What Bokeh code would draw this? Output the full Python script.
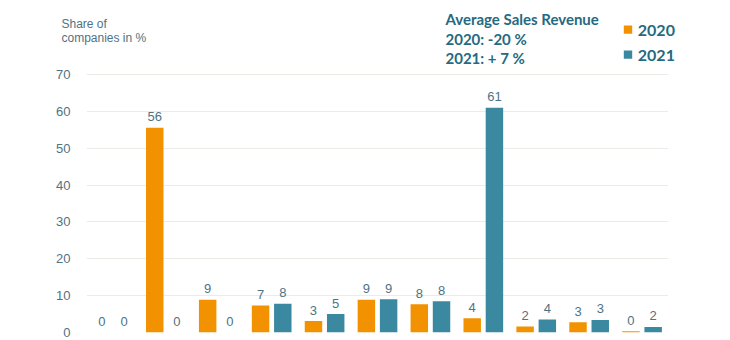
from bokeh.plotting import figure
from bokeh.layouts import column
from bokeh.models import FactorRange, Range1d, Label, FixedTicker, ColumnDataSource
from bokeh.transform import dodge
from bokeh.core.properties import value
from bokeh.embed import file_html
from bokeh.resources import INLINE

# ---- data ----
categories = ["G1", "G2", "G3", "G4", "G5", "G6", "G7", "G8", "G9", "G10", "G11"]
share_2020 = [0.0, 55.6, 8.9, 7.3, 3.1, 8.9, 7.7, 3.9, 1.6, 2.8, 0.35]
share_2021 = [0.0, 0.0, 0.0, 7.8, 5.0, 9.0, 8.5, 61.0, 3.5, 3.4, 1.5]
labels_2020 = ["0", "56", "9", "7", "3", "9", "8", "4", "2", "3", "0"]
labels_2021 = ["0", "0", "0", "8", "5", "9", "8", "61", "4", "3", "2"]
y_ticks = [0, 10, 20, 30, 40, 50, 60, 70]
series_names = ["2020", "2021"]
note_lines = ["Average Sales Revenue", "2020: -20 %", "2021: + 7 %"]
y_title_lines = ["Share of", "companies in %"]

# ---- styles ----
ORANGE = "#F39200"
TEAL = "#3B89A0"
TEXT = "#4F7383"
DARK = "#256A80"
GRID = "#ECECE6"
W = 730
HEAD_H = 67

# ---------------- header (titles, note, legend) ----------------
head = figure(width=W, height=HEAD_H, x_range=Range1d(0, W), y_range=Range1d(HEAD_H, 0),
              output_backend="svg", toolbar_location=None, frame_align=False,
              min_border_left=0, min_border_right=0, min_border_top=0, min_border_bottom=0)
head.axis.visible = False
head.grid.visible = False
head.outline_line_color = None
head.background_fill_color = "white"
head.border_fill_color = "white"


def label(px, py, txt, font, size, color, bold=False):
    head.add_layout(Label(x=px, y=py, text=txt, text_font=font, text_font_size=f"{size}px",
                          text_color=color, text_font_style="bold" if bold else "normal",
                          text_align="left", text_baseline="alphabetic"))


for txt, py in zip(y_title_lines, (23.3, 37.3)):
    label(61, py, txt, "Liberation Sans", 12, TEXT)

for txt, py in zip(note_lines, (18.7, 38.5, 57.6)):
    label(445, py, txt, "Lato", 15, DARK, bold=True)

for name, color, (top, bot), py in ((series_names[0], ORANGE, (25, 33.3), 30.4),
                                    (series_names[1], TEAL, (50, 58.3), 55.1)):
    head.quad(left=[623.3], right=[631.7], top=[top], bottom=[bot],
              fill_color=color, line_color=None)
    label(637.3, py, name, "Lato", 16, DARK, bold=True)

# ---------------- main bar chart ----------------
src = ColumnDataSource(dict(cat=categories, v20=share_2020, v21=share_2021,
                            l20=labels_2020, l21=labels_2021))

p = figure(width=W, height=340 - HEAD_H, x_range=FactorRange(factors=categories, range_padding=0),
           y_range=Range1d(0, 70.3), output_backend="svg", toolbar_location=None, frame_align=False,
           min_border_left=86, min_border_right=62, min_border_top=6, min_border_bottom=8)
p.outline_line_color = None
p.background_fill_color = "white"
p.border_fill_color = "white"

p.vbar(x=dodge("cat", -0.21, range=p.x_range), top="v20", width=0.33, source=src,
       fill_color=ORANGE, line_color=None)
p.vbar(x=dodge("cat", 0.21, range=p.x_range), top="v21", width=0.33, source=src,
       fill_color=TEAL, line_color=None)

for col, lab, off in (("v20", "l20", -0.21), ("v21", "l21", 0.21)):
    p.text(x=dodge("cat", off, range=p.x_range), y=col, text=lab, source=src,
           y_offset=-11, text_align="center", text_baseline="alphabetic",
           text_font=value("Liberation Sans"), text_font_size="13px", text_color=TEXT)

p.xaxis.visible = False
p.xgrid.visible = False
p.yaxis.ticker = FixedTicker(ticks=y_ticks)
p.ygrid.ticker = FixedTicker(ticks=y_ticks)
p.ygrid.grid_line_color = GRID
p.ygrid.grid_line_width = 1
p.yaxis.axis_line_color = None
p.yaxis.major_tick_line_color = None
p.yaxis.minor_tick_line_color = None
p.yaxis.major_label_standoff = 10
p.yaxis.major_label_text_font = "Liberation Sans"
p.yaxis.major_label_text_font_size = "13px"
p.yaxis.major_label_text_color = TEXT

layout = column(head, p, spacing=0)
open("out.html", "w").write(file_html(layout, INLINE))
